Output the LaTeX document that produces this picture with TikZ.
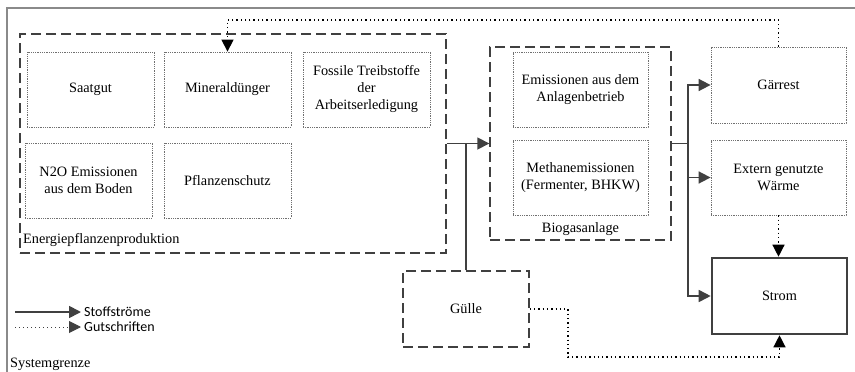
\documentclass[tikz,border=0pt]{standalone}
\usepackage{fontspec}
\setmainfont{Liberation Serif}
\setsansfont{Carlito}
\usetikzlibrary{arrows.meta,calc}
\definecolor{dg}{HTML}{404040}
\definecolor{fg}{HTML}{8A8A8A}
\definecolor{ig}{HTML}{707070}
\begin{document}
\begin{tikzpicture}[x=1pt,y=-1pt,
  every node/.style={font=\fontsize{14.3}{17}\selectfont, inner sep=0pt},
  inbox/.style={draw=ig, line width=0.8pt, dash pattern=on 0.9pt off 0.9pt, align=center},
  grp/.style={draw=dg, line width=1.4pt, dash pattern=on 10pt off 5pt},
  flowline/.style={draw=dg, line width=1.7pt},
  flow/.style={flowline, -{Triangle[length=12pt,width=12pt]}},
  credit/.style={draw=black, line width=1.3pt, dash pattern=on 1.3pt off 3pt, -{Triangle[length=12pt,width=12pt]}},
  legcredit/.style={draw=dg, line width=1pt, dash pattern=on 1pt off 3pt, -{Triangle[length=12pt,width=12pt]}},
  frame/.style={draw=fg, line width=2pt}
]
\useasboundingbox (0,0) rectangle (855,372);
% system boundary
\draw[frame] (855,8) -- (7,8) -- (7,372);
\node[anchor=base west] (sys) at (10,367) {Systemgrenze};

% Energiepflanzenproduktion
\node[grp, minimum width=426, minimum height=219] (ep) at (233,143.5) {};
\node[anchor=base west] (eplab) at (23,243) {Energiepflanzenproduktion};
\node[inbox, minimum width=127, minimum height=75] (saat) at (90.5,89.5) {Saatgut};
\node[inbox, minimum width=127, minimum height=75] (mineral) at (227.5,89.5) {Mineraldünger};
\node[inbox, minimum width=127, minimum height=75] (foss) at (366.5,89.5) {Fossile Treibstoffe\\der\\Arbeitserledigung};
\node[inbox, minimum width=127, minimum height=75] (n2o) at (88.5,180.5) {N2O Emissionen\\aus dem Boden};
\node[inbox, minimum width=127, minimum height=75] (pfl) at (227.5,180.5) {Pflanzenschutz};

% Biogasanlage
\node[grp, minimum width=181, minimum height=193] (bg) at (580.5,143.5) {};
\node[anchor=base] (bglab) at (580.5,232) {Biogasanlage};
\node[inbox, minimum width=135, minimum height=75] (emi) at (580.5,89.5) {Emissionen aus dem\\Anlagenbetrieb};
\node[inbox, minimum width=135, minimum height=75] (meth) at (580.5,177.5) {Methanemissionen\\(Fermenter, BHKW)};

% outputs
\node[inbox, minimum width=135, minimum height=76] (gaer) at (778.5,85) {Gärrest};
\node[inbox, minimum width=135, minimum height=75] (ext) at (778.5,177.5) {Extern genutzte\\Wärme};
\node[draw=dg, line width=2.6pt, minimum width=135, minimum height=76] (strom) at (779.5,296) {Strom};

% Guelle
\node[grp, minimum width=126, minimum height=76] (guelle) at (466,309) {Gülle};

% flows
\draw[flow] (ep.east) -- (bg.west);
\draw[flowline] (guelle.north) -- (guelle.north |- ep.east);
\coordinate (j2) at (688,143.5);
\draw[flowline] (bg.east) -- (j2);
\draw[flow] (j2) |- (gaer.west);
\draw[flow] (j2) |- (ext.west);
\draw[flow] (j2) |- (strom.west);

% credits
\coordinate (topc) at (0,20);
\draw[credit] (gaer.north) -- (gaer.north |- topc) -| (mineral.north);
\draw[credit] (ext.south) -- (ext.south |- strom.north);
\coordinate (lowc) at (568,357);
\draw[credit] (guelle.east) -| (lowc) -| (strom.south);

% legend
\coordinate (l1a) at (15,312);
\coordinate (l1b) at (81,312);
\coordinate (l2a) at (15,327);
\coordinate (l2b) at (81,327);
\draw[flow] (l1a) -- (l1b);
\draw[legcredit] (l2a) -- (l2b);
\node[anchor=west, font=\sffamily\fontsize{14}{16}\selectfont] (lg1) at (84,312) {Stoffströme};
\node[anchor=west, font=\sffamily\fontsize{14}{16}\selectfont] (lg2) at (84,327) {Gutschriften};
\end{tikzpicture}
\end{document}
